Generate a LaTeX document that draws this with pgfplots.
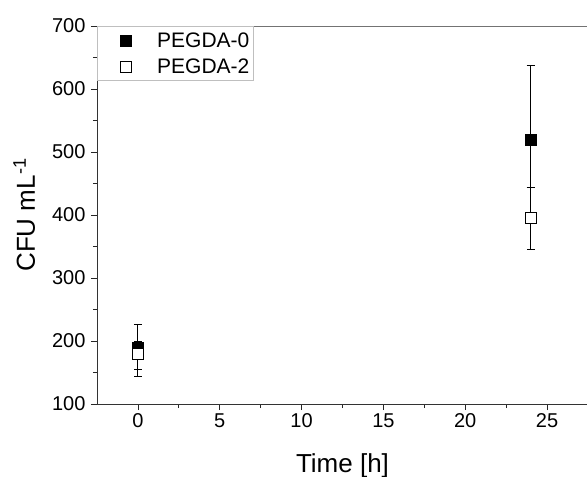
\documentclass[border=0pt]{standalone}
\usepackage{fontspec}
\setmainfont{Liberation Sans}
\usepackage{pgfplots}
\pgfplotsset{compat=1.18}
\usetikzlibrary{calc}

\begin{document}
\begin{tikzpicture}
\pgfplotsset{
  legmark/.style={legend image code/.code={%
    \path (0pt,0pt) (55pt,0pt);
    \draw[mark repeat=2,mark phase=2,##1] plot coordinates {(0pt,0pt)(28pt,0pt)(55pt,0pt)};}},
}
\begin{axis}[
name=ax,
scale only axis, width=491pt, height=378pt,
xmin=-2.5, xmax=27.5, ymin=100, ymax=700,
xtick={0,5,...,25}, ytick={100,200,...,700},
minor x tick num=1, minor y tick num=1,
axis x line*=bottom, axis y line*=left,
tick align=outside,
major tick length=6pt, minor tick length=4pt,
every tick/.style={black!85, line width=0.8pt},
axis line style={line width=0.9pt, black!80},
tick label style={font=\fontsize{20}{23}\selectfont},
yticklabel shift=2pt,
/pgf/number format/assume math mode=true,
label style={font=\fontsize{26}{30}\selectfont},
xlabel={Time [h]}, ylabel={CFU mL\textsuperscript{-1}},
xlabel shift=19pt, ylabel shift=10pt,
legend style={at={(0,1)}, anchor=north west, draw=black!25, line width=0.8pt,
  font=\fontsize{21}{24}\selectfont, inner xsep=0pt, inner ysep=4pt,
  row sep=6pt, nodes={inner ysep=2pt, inner xsep=4pt}},
legend cell align=left,
error bars/error bar style={line width=1pt, black},
error bars/error mark options={rotate=90, mark size=4pt, line width=1pt, black},
]
\draw[black!55, line width=0.9pt] (rel axis cs:0,1) -- (rel axis cs:1,1);
\addplot[only marks, legmark, mark=square*, mark size=5.5pt, mark options={fill=black, draw=black},
  error bars/.cd, y dir=both, y explicit] coordinates {
(0,189) += (0,37) -= (0,45)
(24,520) += (0,117) -= (0,117)
};
\addlegendentry{PEGDA-0}
\addplot[only marks, legmark, mark=square*, mark size=5.5pt, mark options={fill=white, draw=black, line width=1pt},
  error bars/.cd, y dir=both, y explicit] coordinates {
(0,179) += (0,20) -= (0,24)
(24,396) += (0,48) -= (0,50)
};
\addlegendentry{PEGDA-2}
\end{axis}
\pgfresetboundingbox
\useasboundingbox ($(ax.south west)+(-97pt,-73pt)$) rectangle ($(ax.south west)+(490pt,404pt)$);
\end{tikzpicture}
\end{document}
